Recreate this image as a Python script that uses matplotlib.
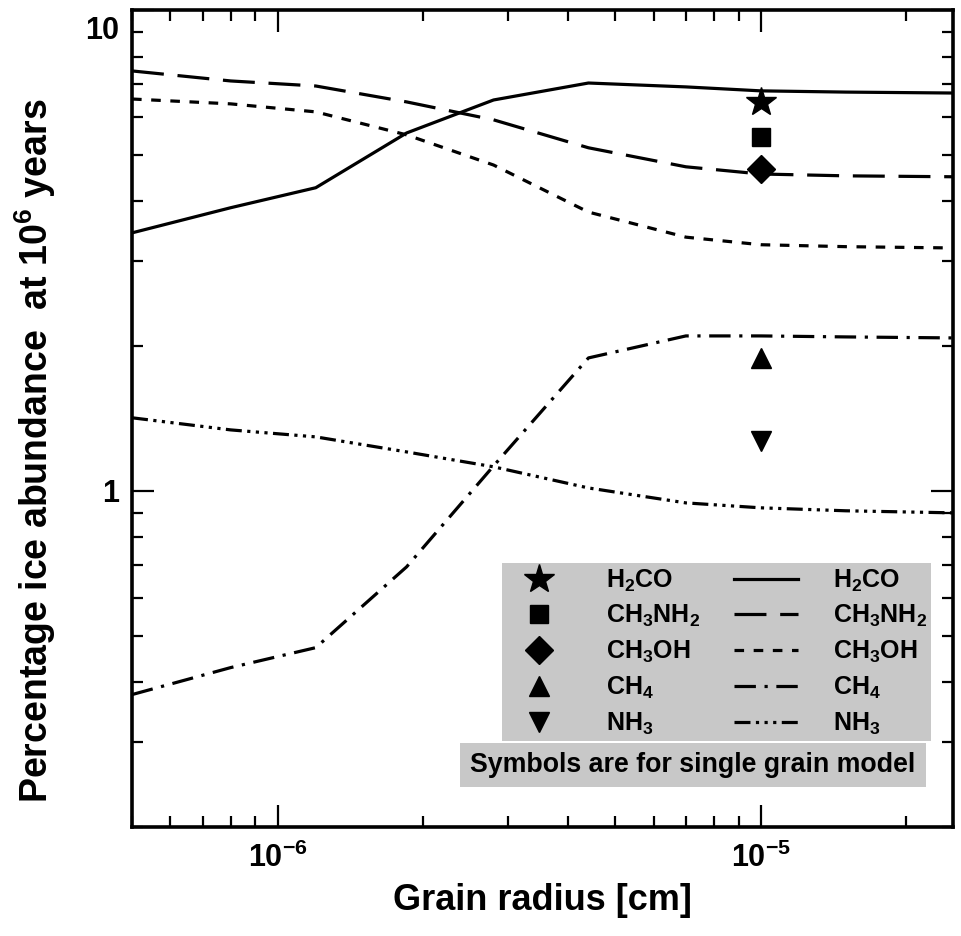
import matplotlib
matplotlib.use("Agg")
import matplotlib.pyplot as plt
from matplotlib.lines import Line2D
from matplotlib.patches import Rectangle
from matplotlib.ticker import NullFormatter
from matplotlib.transforms import ScaledTranslation

plt.rcParams['font.family'] = ['Liberation Sans', 'DejaVu Sans']
plt.rcParams['font.weight'] = 'bold'
plt.rcParams['axes.labelweight'] = 'bold'
plt.rcParams['mathtext.fontset'] = 'custom'
plt.rcParams['mathtext.rm'] = 'Liberation Sans:bold'
plt.rcParams['mathtext.bf'] = 'Liberation Sans:bold'
plt.rcParams['mathtext.it'] = 'Liberation Sans:bold'
plt.rcParams['mathtext.default'] = 'rm'

# grain radius grid [cm]
radius = [5e-7, 8e-7, 1.2e-6, 1.85e-6, 2.8e-6, 4.4e-6, 7e-6, 1e-5, 1.5e-5, 2.5e-5]

# percentage ice abundance at 1e6 yr
h2co = [3.44, 3.88, 4.27, 5.55, 6.50, 7.05, 6.92, 6.79, 6.75, 6.72]
ch3nh2 = [7.47, 7.12, 6.95, 6.44, 5.91, 5.17, 4.72, 4.56, 4.52, 4.50]
ch3oh = [6.53, 6.38, 6.14, 5.50, 4.76, 3.80, 3.37, 3.25, 3.22, 3.20]
ch4 = [0.377, 0.429, 0.472, 0.695, 1.127, 1.89, 2.10, 2.10, 2.09, 2.08]
nh3 = [1.419, 1.339, 1.295, 1.205, 1.122, 1.014, 0.944, 0.922, 0.909, 0.900]

species = ['H$_2$CO', 'CH$_3$NH$_2$', 'CH$_3$OH', 'CH$_4$', 'NH$_3$']

# single grain model
single_radius = 1e-5
single_vals = [6.44, 5.44, 4.67, 1.89, 1.27]

series = [h2co, ch3nh2, ch3oh, ch4, nh3]
dash_styles = ['-', (0, (10, 4.3)), (0, (3, 3)), (0, (6.7, 2.7, 1, 2.7)),
               (0, (5, 1.7, 1, 1.7, 1, 1.7, 1, 1.7))]
markers = ['*', 's', 'D', '^', 'v']
msizes = [22, 12.5, 14, 15, 15]
lw = 2.3

fig = plt.figure(figsize=(9.61, 9.36), dpi=100)
ax = fig.add_axes([0.1374, 0.1165, 0.8543, 0.8728])

for vals, ls in zip(series, dash_styles):
    ax.plot(radius, vals, color='k', lw=lw, linestyle=ls)

for v, m, ms in zip(single_vals, markers, msizes):
    ax.plot([single_radius], [v], ls='none', marker=m, ms=ms, color='k')

ax.set_xscale('log')
ax.set_yscale('log')
ax.set_xlim(5e-7, 2.5e-5)
ax.set_ylim(0.2, 10)

ax.set_yticks([1, 10], labels=['1', '10'])
ax.yaxis.set_minor_formatter(NullFormatter())
ax.xaxis.set_minor_formatter(NullFormatter())

ax.tick_params(which='both', direction='in', top=True, right=True,
               width=1.6, labelsize=22)
ax.tick_params(which='major', length=16, pad=9)
ax.tick_params(which='minor', length=8)
ax.tick_params(axis='x', which='major', pad=11)
for s in ax.spines.values():
    s.set_linewidth(2.6)

# "10" label sits just below the top spine
top_lbl = ax.get_yticklabels()[1]
top_lbl.set_va('top')
top_lbl.set_transform(top_lbl.get_transform() + ScaledTranslation(0, -4 / 72, fig.dpi_scale_trans))

ax.set_xlabel('Grain radius [cm]', fontsize=26)
ax.set_ylabel('Percentage ice abundance  at 10$^6$ years', fontsize=27)
ax.xaxis.set_label_coords(0.5, -0.068)
ax.yaxis.set_label_coords(-0.09, 0.46)

# legend: symbols column, lines column
handles = [Line2D([], [], ls='none', marker=m, ms=ms, color='k')
           for m, ms in zip(markers, msizes)]
handles += [Line2D([], [], color='k', lw=lw, linestyle=ls) for ls in dash_styles]
labels = species + species
leg = ax.legend(handles, labels, ncol=2, loc='upper left',
                bbox_to_anchor=(0.4507, 0.3231), borderaxespad=0,
                frameon=True, fancybox=False, facecolor='#c8c8c8',
                edgecolor='none', framealpha=1, fontsize=18,
                handlelength=2.56, handletextpad=1.4, columnspacing=1.36,
                labelspacing=0.38, borderpad=0.18)
leg.get_frame().set_linewidth(0)

ax.add_patch(Rectangle((0.3995, 0.049), 0.5675, 0.0538, transform=ax.transAxes,
                       facecolor='#c8c8c8', edgecolor='none', zorder=3))
ax.text(0.683, 0.0759, 'Symbols are for single grain model', transform=ax.transAxes,
        ha='center', va='center', fontsize=19.3, zorder=4)

fig.savefig('out.png', dpi=100)
